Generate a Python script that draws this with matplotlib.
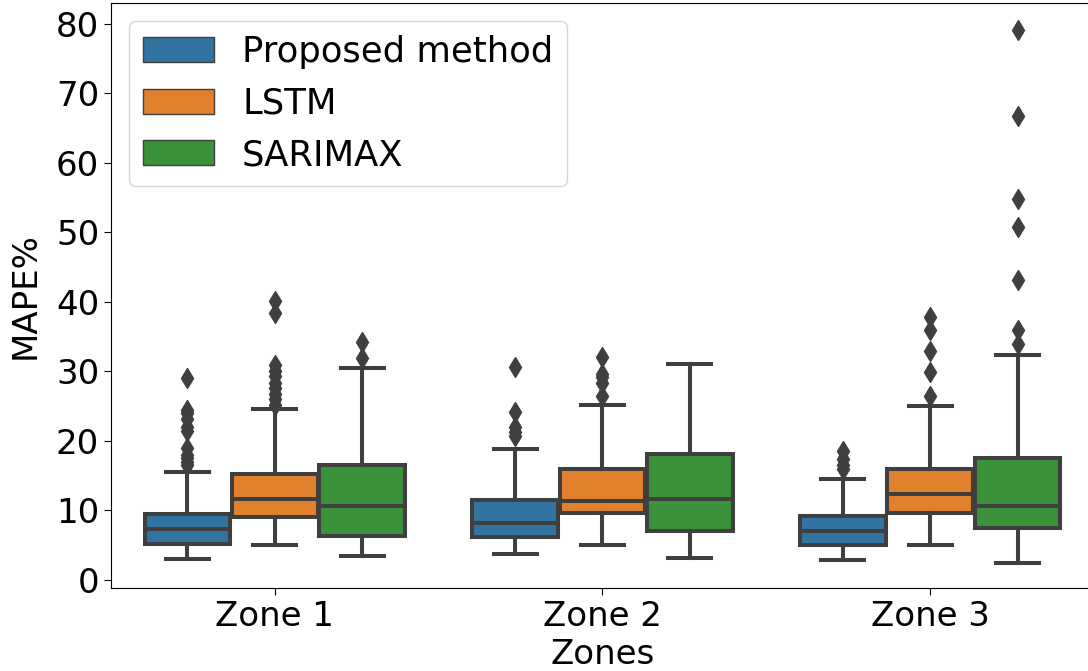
import matplotlib
matplotlib.use("Agg")
import matplotlib.pyplot as plt
from matplotlib.patches import Patch

zones = ["Zone 1", "Zone 2", "Zone 3"]
methods = ["Proposed method", "LSTM", "SARIMAX"]
colors = ["#3274a1", "#e1812c", "#3a923a"]

# Box statistics per method, per zone
# [whislo, q1, med, q3, whishi]
proposed_stats = [[3.0, 5.2, 7.3, 9.5, 15.6],
                  [3.7, 6.2, 8.2, 11.5, 18.8],
                  [2.9, 5.1, 7.0, 9.2, 14.5]]
lstm_stats = [[5.1, 9.0, 11.7, 15.3, 24.6],
              [5.0, 9.6, 11.4, 15.9, 25.2],
              [5.1, 9.7, 12.3, 16.0, 25.0]]
sarimax_stats = [[3.4, 6.4, 10.6, 16.6, 30.5],
                 [3.1, 7.1, 11.7, 18.1, 31.1],
                 [2.5, 7.5, 10.6, 17.6, 32.3]]

proposed_fliers = [[16.5, 17.0, 17.5, 18.0, 19.0, 21.5, 22.0, 23.2, 24.0, 24.5, 29.1],
                   [20.7, 21.3, 22.0, 24.1, 30.6],
                   [15.9, 16.6, 17.4, 18.5]]
lstm_fliers = [[25.2, 26.0, 26.8, 27.6, 28.4, 29.3, 30.1, 30.9, 38.4, 40.2],
               [26.5, 28.4, 29.2, 29.7, 32.1],
               [26.4, 29.9, 33.0, 35.9, 37.9]]
sarimax_fliers = [[32.0, 34.2],
                  [],
                  [33.9, 36.0, 43.1, 50.8, 54.8, 66.7, 79.1]]

all_stats = [proposed_stats, lstm_stats, sarimax_stats]
all_fliers = [proposed_fliers, lstm_fliers, sarimax_fliers]

W, H = 1088, 671
fig = plt.figure(figsize=(W / 100, H / 100), dpi=100)
ax = fig.add_axes([111 / W, 1 - 588 / H, (1094 - 111) / W, (588 - 3) / H])

line_col = "#3f3f3f"
lw = 2.9
n = len(methods)
group_w = 0.8
box_w = group_w / n * 0.98

for j, (stats, fliers) in enumerate(zip(all_stats, all_fliers)):
    bstats = []
    for i in range(len(zones)):
        s = stats[i]
        bstats.append(dict(whislo=s[0], q1=s[1], med=s[2], q3=s[3], whishi=s[4],
                           fliers=fliers[i]))
    pos = [i - group_w / 2 + group_w / n * (j + 0.5) for i in range(len(zones))]
    ax.bxp(bstats, positions=pos, widths=box_w, patch_artist=True,
           showfliers=True, manage_ticks=False,
           boxprops=dict(facecolor=colors[j], edgecolor=line_col, linewidth=lw),
           medianprops=dict(color=line_col, linewidth=lw),
           whiskerprops=dict(color=line_col, linewidth=lw),
           capprops=dict(color=line_col, linewidth=lw),
           flierprops=dict(marker="d", markersize=10, markerfacecolor=line_col,
                           markeredgecolor=line_col, linestyle="none"))

fs = 24.5
ax.set_xlim(-0.5, 2.5)
ax.set_ylim(-1.15, 83)
ax.set_xticks(range(len(zones)))
ax.set_xticklabels(zones, fontsize=fs)
ax.set_yticks(range(0, 81, 10))
ax.tick_params(axis="y", labelsize=fs, length=5)
ax.tick_params(axis="x", length=5)
ax.set_xlabel("Zones", fontsize=fs, labelpad=4)
ax.set_ylabel("MAPE%", fontsize=fs, labelpad=10)

handles = [Patch(facecolor=c, edgecolor=line_col, linewidth=1.0) for c in colors]
ax.legend(handles, methods, loc="upper left", fontsize=25.5, framealpha=0.8,
          borderaxespad=0.5)

fig.savefig("out.png", dpi=100)
